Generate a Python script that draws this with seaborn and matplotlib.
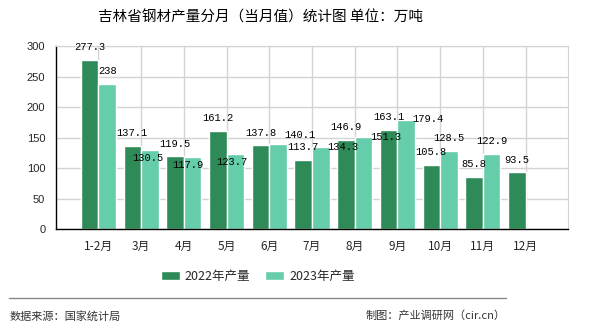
import matplotlib
matplotlib.use("Agg")
import matplotlib.pyplot as plt
import seaborn as sns
import pandas as pd
import numpy as np
from matplotlib.lines import Line2D

# ---- data ----
months = ["1-2月", "3月", "4月", "5月", "6月", "7月", "8月", "9月", "10月", "11月", "12月"]
output_2022 = [277.3, 137.1, 119.5, 161.2, 137.8, 113.7, 146.9, 163.1, 105.8, 85.8, 93.5]
output_2023 = [238, 130.5, 117.9, 123.7, 140.1, 134.3, 151.3, 179.4, 128.5, 122.9, np.nan]
series_names = ["2022年产量", "2023年产量"]
y_ticks = [0, 50, 100, 150, 200, 250, 300]

# label offsets (pixels) used by the reference's label placement, style only
label_offsets_2023 = [(0, 13), (-2, -8), (-5, -8), (-3, -8), (22, 9), (22, 0),
                      (22, 0), (22, 1), (0, 13), (0, 13)]

colors = ["#2e8b57", "#66cdaa"]

sns.set_style("white")
plt.rcParams["font.family"] = ["Noto Sans CJK SC", "DejaVu Sans"]

df = pd.DataFrame({
    "月份": months * 2,
    "产量": output_2022 + output_2023,
    "年份": [series_names[0]] * len(months) + [series_names[1]] * len(months),
})

fig = plt.figure(figsize=(5.9, 3.3), dpi=100)
ax = fig.add_axes([0.0944, 0.3052, 0.8688, 0.5554])

sns.barplot(data=df, x="月份", y="产量", hue="年份", palette=colors,
            width=0.82, ax=ax, saturation=1, order=months, hue_order=series_names)

ax.set_xlim(-1, len(months))
ax.set_ylim(0, 300)
ax.set_yticks(y_ticks)
ax.set_xticks(range(len(months)))
ax.set_xticklabels(months, fontsize=8.5, family=["Noto Sans CJK SC"])
ax.set_xticks([len(months)], minor=True)
for lab in ax.get_yticklabels():
    lab.set_family(["Liberation Sans"])
    lab.set_fontsize(8)
ax.set_xlabel("")
ax.set_ylabel("")

ax.grid(True, color="#d3d3d3", linewidth=1)
ax.set_axisbelow(True)
ax.tick_params(axis="y", direction="out", length=6, width=1, color="black", pad=1.5)
ax.tick_params(axis="x", which="both", direction="out", length=4, width=1, color="black", pad=4)
for s in ["left", "bottom"]:
    ax.spines[s].set_color("black")
    ax.spines[s].set_linewidth(1)
ax.spines["top"].set_color("#d3d3d3")
ax.spines["right"].set_color("#d3d3d3")

# bar value labels
px = 72.0 / fig.dpi
for ci, (cont, vals) in enumerate(zip(ax.containers, [output_2022, output_2023])):
    valid = [v for v in vals if not np.isnan(v)]
    bars = [b for b in cont if not np.isnan(b.get_height()) and b.get_height() > 0]
    for k, (bar, v) in enumerate(zip(bars, valid)):
        if ci == 0:
            dx, dy = 0, 12.5
        else:
            dx, dy = label_offsets_2023[k]
        txt = f"{v:g}"
        ax.annotate(txt, (bar.get_x() + bar.get_width() / 2, bar.get_height()),
                    xytext=(dx * px, dy * px), textcoords="offset points",
                    ha="center", va="center", fontsize=7.5,
                    family=["Liberation Mono"], color="black")

# legend
handles, labels = ax.get_legend_handles_labels()
if ax.get_legend() is not None:
    ax.get_legend().remove()
fig.legend(handles, labels, loc="center", bbox_to_anchor=(0.437, 0.1615),
           ncol=2, frameon=False, handlelength=1.5, handleheight=0.7,
           handletextpad=0.4, columnspacing=1.2, prop={"family": ["Noto Sans CJK SC"], "size": 9})

# title and footer
fig.text(0.4407, 0.948, "吉林省钢材产量分月（当月值）统计图 单位：万吨",
         ha="center", va="center", fontsize=10.5, color="black")
fig.add_artist(Line2D([0.0153, 0.857], [0.097, 0.097], transform=fig.transFigure,
                      color="#888888", linewidth=1))
fig.text(0.017, 0.0424, "数据来源：国家统计局", ha="left", va="center",
         fontsize=8, color="#333333")
fig.text(0.857, 0.0424, "制图：产业调研网（cir.cn）", ha="right", va="center",
         fontsize=8, color="#333333")

fig.savefig("out.png", dpi=100)
